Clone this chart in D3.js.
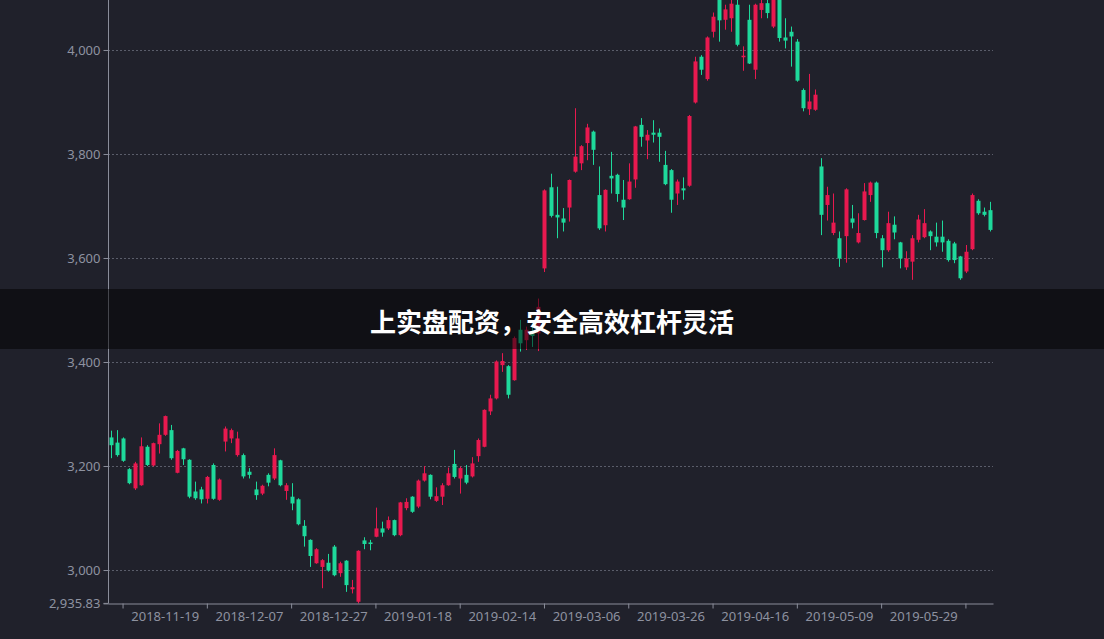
<!DOCTYPE html>
<html>
<head>
<meta charset="utf-8">
<script src="https://cdn.jsdelivr.net/npm/d3@7"></script>
<style>
  html, body { margin: 0; padding: 0; background: #20212b; overflow: hidden; }
  svg { display: block; }
  text { font-family: "Noto Sans", "DejaVu Sans", sans-serif; }
</style>
</head>
<body>
<svg id="chart" width="1104" height="639"></svg>
<script>
// ---- data (trading days, CSI-like index) ----
const dates = [
 "2018-11-06","2018-11-07","2018-11-08","2018-11-09","2018-11-12","2018-11-13","2018-11-14","2018-11-15","2018-11-16","2018-11-19",
 "2018-11-20","2018-11-21","2018-11-22","2018-11-23","2018-11-26","2018-11-27","2018-11-28","2018-11-29","2018-11-30","2018-12-03",
 "2018-12-04","2018-12-05","2018-12-06","2018-12-07","2018-12-10","2018-12-11","2018-12-12","2018-12-13","2018-12-14","2018-12-17",
 "2018-12-18","2018-12-19","2018-12-20","2018-12-21","2018-12-24","2018-12-25","2018-12-26","2018-12-27","2018-12-28","2019-01-02",
 "2019-01-03","2019-01-04","2019-01-07","2019-01-08","2019-01-09","2019-01-10","2019-01-11","2019-01-14","2019-01-15","2019-01-16",
 "2019-01-17","2019-01-18","2019-01-21","2019-01-22","2019-01-23","2019-01-24","2019-01-25","2019-01-28","2019-01-29","2019-01-30",
 "2019-01-31","2019-02-01","2019-02-11","2019-02-12","2019-02-13","2019-02-14","2019-02-15","2019-02-18","2019-02-19","2019-02-20",
 "2019-02-21","2019-02-22","2019-02-25","2019-02-26","2019-02-27","2019-02-28","2019-03-01","2019-03-04","2019-03-05","2019-03-06",
 "2019-03-07","2019-03-08","2019-03-11","2019-03-12","2019-03-13","2019-03-14","2019-03-15","2019-03-18","2019-03-19","2019-03-20",
 "2019-03-21","2019-03-22","2019-03-25","2019-03-26","2019-03-27","2019-03-28","2019-03-29","2019-04-01","2019-04-02","2019-04-03",
 "2019-04-04","2019-04-08","2019-04-09","2019-04-10","2019-04-11","2019-04-12","2019-04-15","2019-04-16","2019-04-17","2019-04-18",
 "2019-04-19","2019-04-22","2019-04-23","2019-04-24","2019-04-25","2019-04-26","2019-04-29","2019-04-30","2019-05-06","2019-05-07",
 "2019-05-08","2019-05-09","2019-05-10","2019-05-13","2019-05-14","2019-05-15","2019-05-16","2019-05-17","2019-05-20","2019-05-21",
 "2019-05-22","2019-05-23","2019-05-24","2019-05-27","2019-05-28","2019-05-29","2019-05-30","2019-05-31","2019-06-03","2019-06-04",
 "2019-06-05","2019-06-06","2019-06-10","2019-06-11","2019-06-12","2019-06-13","2019-06-14"
];
const open = [
 3255,3245,3253,3194,3157,3163,3237,3201,3242,3260, 3269,3187,3234,3212,3151,3155,3137,3202,3135,3247,
 3253,3221,3221,3189,3155,3147,3183,3176,3211,3152, 3141,3136,3085,3058,3013,3006,3014,3045,2994,3018,
 2963,2939,3057,3053,3064,3080,3080,3096,3067,3119, 3141,3122,3172,3183,3133,3141,3163,3204,3176,3183,
 3180,3219,3237,3305,3330,3394,3392,3365,3462,3442, 3455,3455,3580,3736,3683,3676,3697,3766,3782,3821,
 3843,3721,3663,3758,3760,3712,3713,3751,3856,3826, 3841,3841,3779,3769,3724,3734,3739,3899,3987,3944,
 4035,4100,4058,4061,4087,3986,4058,3962,4077,4090, 4045,4108,4024,4035,4016,3923,3886,3885,3776,3702,
 3648,3638,3642,3676,3630,3673,3721,3745,3638,3615, 3664,3630,3582,3593,3635,3640,3651,3641,3641,3633,
 3628,3603,3574,3617,3710,3689,3692
];
const close = [
 3240,3221,3210,3167,3205,3238,3202,3244,3260,3296, 3215,3229,3213,3141,3138,3136,3179,3137,3174,3272,
 3269,3253,3180,3183,3144,3162,3168,3221,3163,3163, 3128,3088,3065,3027,3040,3019,2999,2990,3013,2971,
 2967,3037,3050,3050,3080,3072,3096,3067,3130,3131, 3112,3172,3186,3141,3142,3163,3186,3179,3196,3168,
 3205,3250,3308,3330,3401,3402,3337,3446,3436,3462, 3450,3506,3730,3681,3678,3668,3750,3795,3815,3851,
 3808,3657,3731,3753,3723,3697,3747,3853,3833,3837, 3837,3833,3742,3712,3747,3730,3873,3978,3962,4024,
 4064,4057,4078,4089,4010,3989,3974,4087,4090,4071, 4112,4023,4018,4026,3941,3888,3901,3914,3683,3721,
 3668,3599,3732,3668,3648,3728,3745,3648,3615,3667, 3649,3599,3599,3638,3674,3667,3642,3630,3630,3596,
 3596,3561,3612,3721,3686,3683,3654
];
const low = [
 3215,3218,3208,3165,3154,3162,3200,3199,3224,3258, 3212,3186,3202,3138,3135,3128,3128,3135,3133,3228,
 3244,3218,3176,3176,3135,3144,3161,3173,3161,3135, 3115,3086,3045,3006,3012,2965,2997,2988,2987,2958,
 2955,2935.83,3040,3038,3063,3064,3077,3065,3065,3115, 3110,3119,3170,3136,3131,3125,3162,3176,3147,3165,
 3178,3208,3236,3298,3328,3381,3330,3364,3420,3423, 3429,3421,3573,3678,3638,3651,3670,3764,3769,3788,
 3779,3654,3651,3724,3708,3673,3712,3735,3814,3790, 3822,3785,3740,3687,3702,3712,3737,3897,3952,3941,
 4024,4016,4039,4035,4007,3960,3973,3944,4061,4061, 4042,4016,4003,3968,3939,3882,3875,3883,3644,3672,
 3644,3583,3591,3657,3628,3672,3708,3638,3582,3612, 3636,3580,3577,3558,3630,3638,3615,3622,3612,3593,
 3590,3558,3571,3615,3683,3680,3651
];
const high = [
 3268,3269,3255,3196,3208,3255,3240,3245,3282,3297, 3279,3231,3235,3213,3170,3160,3181,3205,3176,3276,
 3272,3266,3224,3196,3170,3164,3186,3234,3212,3167, 3167,3138,3096,3059,3042,3021,3031,3048,3016,3019,
 2981,3038,3063,3058,3120,3093,3103,3097,3131,3138, 3142,3174,3200,3184,3159,3167,3197,3231,3199,3202,
 3217,3253,3309,3337,3403,3417,3394,3449,3481,3468, 3474,3522,3732,3762,3737,3696,3751,3888,3817,3858,
 3845,3776,3732,3804,3762,3750,3782,3854,3869,3846, 3865,3849,3806,3771,3751,3755,3875,3987,3990,4026,
 4072,4126.09,4087,4105,4100,4007,4087,4089,4105,4105, 4118,4115,4061,4045,4021,3926,3954,3924,3792,3737,
 3724,3651,3734,3702,3686,3744,3747,3747,3644,3689, 3680,3631,3613,3644,3683,3694,3653,3668,3672,3636,
 3631,3604,3625,3724,3713,3697,3708
];
const yGridValues = [3000, 3200, 3400, 3600, 3800, 4000];
const xLabelDates = ["2018-11-19","2018-12-07","2018-12-27","2019-01-18","2019-02-14","2019-03-06","2019-03-26","2019-04-16","2019-05-09","2019-05-29"];
const bannerText = "上实盘配资，安全高效杠杆灵活";

// ---- layout ----
const W = 1104, H = 639;
const plot = { left: 108, right: 993, top: -15.6, bottom: 603.4 };
const colors = { bg: "#20212b", up: "#e8194f", down: "#1ed99b", axis: "#8a8d9a", grid: "#5a5d6a", label: "#8e92a0" };
const labelFont = '"Noto Sans", "DejaVu Sans", sans-serif';

const candles = dates.map((d, i) => ({ date: d, o: open[i], c: close[i], l: low[i], h: high[i] }));
const yMin = d3.min(low), yMax = d3.max(high);

const svg = d3.select("#chart");
svg.append("rect").attr("width", W).attr("height", H).attr("fill", colors.bg);

const x = d3.scaleBand().domain(dates).range([plot.left, plot.right]).padding(0);
const y = d3.scaleLinear().domain([yMin, yMax]).range([plot.bottom, plot.top]);
const bw = x.bandwidth();

// grid
svg.append("g").selectAll("line").data(yGridValues).join("line")
  .attr("x1", plot.left).attr("x2", plot.right)
  .attr("y1", d => Math.round(y(d)) + 0.5).attr("y2", d => Math.round(y(d)) + 0.5)
  .attr("stroke", colors.grid).attr("stroke-width", 1).attr("stroke-dasharray", "2,2");

// candles
const g = svg.append("g");
const cg = g.selectAll("g.candle").data(candles).join("g").attr("class", "candle");
cg.append("line")
  .attr("x1", d => Math.round(x(d.date) + bw / 2) + 0.5)
  .attr("x2", d => Math.round(x(d.date) + bw / 2) + 0.5)
  .attr("y1", d => y(d.h)).attr("y2", d => y(d.l))
  .attr("stroke", d => d.c >= d.o ? colors.up : colors.down).attr("stroke-width", 1);
cg.append("rect")
  .attr("x", d => Math.round(x(d.date) + bw / 2) + 0.5 - 2)
  .attr("width", 4)
  .attr("y", d => y(Math.max(d.o, d.c)))
  .attr("height", d => Math.max(1, Math.abs(y(d.o) - y(d.c))))
  .attr("fill", d => d.c >= d.o ? colors.up : colors.down);

// y axis
const yAxis = d3.axisLeft(y)
  .tickValues([yMin].concat(yGridValues))
  .tickFormat(v => (v === yMin) ? d3.format(",.2f")(v) : d3.format(",")(v))
  .tickSize(5).tickPadding(3);
const ya = svg.append("g").attr("transform", `translate(${plot.left + 0.5},0)`).call(yAxis);
ya.select(".domain").attr("stroke", colors.axis).attr("d", `M-5,${plot.bottom}H0V${plot.top}`);
ya.selectAll(".tick line").attr("stroke", colors.axis);
ya.selectAll(".tick text").attr("fill", colors.label).style("font-size", "13px")
  .style("font-family", labelFont);

// x axis: ticks between label groups, labels at category centres
const tickDates = dates.filter((d, i) => i % 14 === 2);
const xTicks = d3.axisBottom(x).tickValues(tickDates).tickFormat("").tickSize(5).tickSizeOuter(0);
const xa = svg.append("g").attr("transform", `translate(0,${Math.round(plot.bottom) + 0.5})`).call(xTicks);
xa.select(".domain").attr("stroke", colors.axis);
xa.selectAll(".tick line").attr("stroke", colors.axis);

const xLabels = d3.axisBottom(x).tickValues(xLabelDates).tickSize(0).tickPadding(8);
const xl = svg.append("g").attr("transform", `translate(0,${Math.round(plot.bottom) + 0.5})`).call(xLabels);
xl.select(".domain").remove();
xl.selectAll(".tick text").attr("fill", colors.label).style("font-size", "13px")
  .style("font-family", labelFont);

// banner overlay
svg.append("rect").attr("x", 0).attr("y", 289).attr("width", W).attr("height", 60)
  .attr("fill", "rgba(0,0,0,0.5)");
svg.append("text").attr("x", W / 2).attr("y", 320)
  .attr("text-anchor", "middle").attr("dominant-baseline", "central")
  .attr("fill", "#ffffff").style("font-size", "26px").style("font-weight", "bold")
  .style("font-family", '"Noto Sans CJK SC", "Noto Sans", sans-serif')
  .text(bannerText);
</script>
</body>
</html>
